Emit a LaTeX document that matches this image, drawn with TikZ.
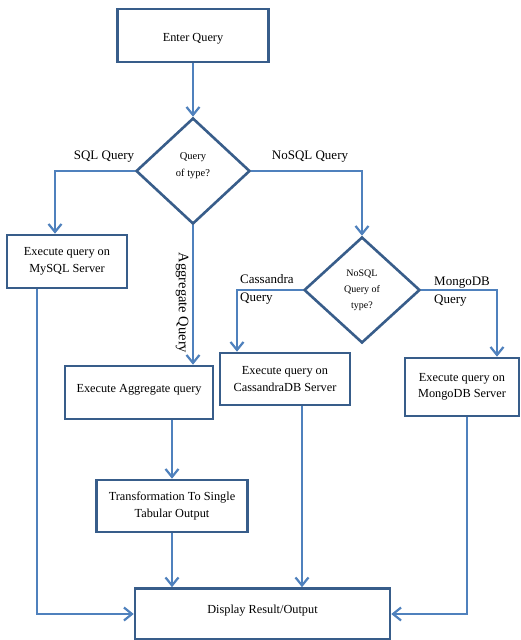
\documentclass[tikz,border=0pt]{standalone}
\usepackage{fontspec}
\setmainfont{Liberation Serif}
\usetikzlibrary{shapes.geometric,arrows.meta,calc}
\definecolor{lineblue}{RGB}{79,129,189}
\definecolor{boxblue}{RGB}{56,93,138}
\begin{document}
\begin{tikzpicture}[x=1pt,y=-1pt,
  stepbox/.style={draw=boxblue,line width=2.6pt,fill=white,align=center,inner sep=2pt,
    font=\fontsize{12.3}{16.5}\selectfont},
  decide/.style={diamond,draw=boxblue,line width=2.6pt,fill=white,inner sep=0pt,align=center},
  conn/.style={draw=lineblue,line width=2.5pt,-{Straight Barb[length=8pt,width=13pt,line width=2.2pt]}},
  lbl/.style={font=\fontsize{13}{18}\selectfont,inner sep=0pt}]
\useasboundingbox (0,0) rectangle (521,640);
\fill[white] (0,0) rectangle (521,640);

\node[stepbox,minimum width=151pt,minimum height=53pt,text height=14pt] (enter) at (193,35.5) {Enter Query};
\node[decide,minimum width=114pt,minimum height=106pt] (d1) at (193,171) {};
\node[font=\fontsize{10.5}{17}\selectfont,align=center,inner sep=0pt] (d1t) at (193,166) {Query\\of type?};
\node[stepbox,minimum width=120pt,minimum height=53pt] (mysql) at (67,261.5) {Execute query on\\MySQL Server};
\node[decide,minimum width=116pt,minimum height=106pt,font=\fontsize{10}{16}\selectfont] (d2) at (362,290) {NoSQL\\Query of\\type?};
\node[stepbox,minimum width=130pt,minimum height=52pt] (cass) at (285,379) {Execute query on\\CassandraDB Server};
\node[stepbox,minimum width=114pt,minimum height=58pt] (mongo) at (462,387) {Execute query on\\MongoDB Server};
\node[stepbox,minimum width=148pt,minimum height=53pt,text depth=9pt] (agg) at (139,392.5) {Execute Aggregate query};
\node[stepbox,minimum width=151pt,minimum height=52pt] (trans) at (172,506) {Transformation To Single\\Tabular Output};
\node[stepbox,minimum width=255pt,minimum height=51pt,text depth=10pt] (disp) at (262.5,614) {Display Result/Output};

\node[lbl] (sqll) at (104,157) {SQL Query};
\node[lbl] (nosqll) at (310,157) {NoSQL Query};
\node[lbl,rotate=-90,font=\fontsize{14.5}{18}\selectfont] (aggl) at (182,303) {Aggregate Query};
\node[lbl,align=left,anchor=west] (cassl) at (240,289) {Cassandra\\Query};
\node[lbl,align=left,anchor=west] (mongol) at (434,292) {MongoDB\\Query};

\draw[conn] (enter.south) -- (d1.north);
\draw[conn] (d1.west) -| ([xshift=-12pt]mysql.north);
\draw[conn] (d1.east) -| (d2.north);
\draw[conn] (d1.south) -- (d1.south |- agg.north);
\draw[conn] (d2.west) -| ([xshift=-48pt]cass.north);
\draw[conn] (d2.east) -| ([xshift=35pt]mongo.north);
\draw[conn] (trans.north |- agg.south) -- (trans.north);
\draw[conn] (trans.south) -- (trans.south |- disp.north);
\draw[conn] ([xshift=17pt]cass.south) -- ([xshift=17pt]cass.south |- disp.north);
\draw[conn] ([xshift=-30pt]mysql.south) |- (disp.west);
\draw[conn] ([xshift=5pt]mongo.south) |- (disp.east);
\end{tikzpicture}
\end{document}
